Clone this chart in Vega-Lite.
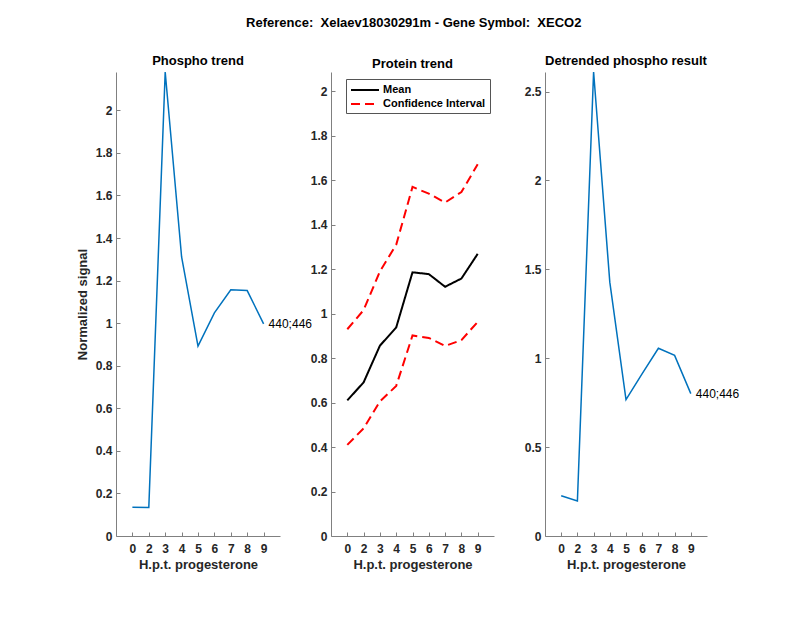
{
  "$schema": "https://vega.github.io/schema/vega-lite/v6.json",
  "background": "white",
  "padding": {"left": 76, "top": 17, "right": 5, "bottom": 5},
  "title": {"text": "Reference:\u00a0 Xelaev18030291m - Gene Symbol:\u00a0 XECO2", "anchor": "middle", "offset": 25, "dx": 6},
  "datasets": {
    "phospho": [
      {"t": 0, "value": 0.135},
      {"t": 2, "value": 0.134},
      {"t": 3, "value": 2.18},
      {"t": 4, "value": 1.311},
      {"t": 5, "value": 0.892},
      {"t": 6, "value": 1.048},
      {"t": 7, "value": 1.157},
      {"t": 8, "value": 1.153},
      {"t": 9, "value": 0.997, "label": "440;446"}
    ],
    "protein": [
      {"t": 0, "value": 0.61, "series": "Mean", "line": "mean"},
      {"t": 2, "value": 0.691, "series": "Mean", "line": "mean"},
      {"t": 3, "value": 0.856, "series": "Mean", "line": "mean"},
      {"t": 4, "value": 0.938, "series": "Mean", "line": "mean"},
      {"t": 5, "value": 1.186, "series": "Mean", "line": "mean"},
      {"t": 6, "value": 1.178, "series": "Mean", "line": "mean"},
      {"t": 7, "value": 1.121, "series": "Mean", "line": "mean"},
      {"t": 8, "value": 1.158, "series": "Mean", "line": "mean"},
      {"t": 9, "value": 1.269, "series": "Mean", "line": "mean"},
      {"t": 0, "value": 0.93, "series": "Confidence Interval", "line": "upper"},
      {"t": 2, "value": 1.016, "series": "Confidence Interval", "line": "upper"},
      {"t": 3, "value": 1.19, "series": "Confidence Interval", "line": "upper"},
      {"t": 4, "value": 1.31, "series": "Confidence Interval", "line": "upper"},
      {"t": 5, "value": 1.57, "series": "Confidence Interval", "line": "upper"},
      {"t": 6, "value": 1.54, "series": "Confidence Interval", "line": "upper"},
      {"t": 7, "value": 1.5, "series": "Confidence Interval", "line": "upper"},
      {"t": 8, "value": 1.547, "series": "Confidence Interval", "line": "upper"},
      {"t": 9, "value": 1.672, "series": "Confidence Interval", "line": "upper"},
      {"t": 0, "value": 0.41, "series": "Confidence Interval", "line": "lower"},
      {"t": 2, "value": 0.484, "series": "Confidence Interval", "line": "lower"},
      {"t": 3, "value": 0.605, "series": "Confidence Interval", "line": "lower"},
      {"t": 4, "value": 0.675, "series": "Confidence Interval", "line": "lower"},
      {"t": 5, "value": 0.902, "series": "Confidence Interval", "line": "lower"},
      {"t": 6, "value": 0.891, "series": "Confidence Interval", "line": "lower"},
      {"t": 7, "value": 0.855, "series": "Confidence Interval", "line": "lower"},
      {"t": 8, "value": 0.881, "series": "Confidence Interval", "line": "lower"},
      {"t": 9, "value": 0.963, "series": "Confidence Interval", "line": "lower"}
    ],
    "detrended": [
      {"t": 0, "value": 0.226},
      {"t": 2, "value": 0.197},
      {"t": 3, "value": 2.61},
      {"t": 4, "value": 1.428},
      {"t": 5, "value": 0.767},
      {"t": 6, "value": 0.913},
      {"t": 7, "value": 1.056},
      {"t": 8, "value": 1.016},
      {"t": 9, "value": 0.801, "label": "440;446"}
    ]
  },
  "hconcat": [
    {
      "width": 164,
      "height": 464,
      "title": {"text": "Phospho trend", "offset": 1},
      "data": {"name": "phospho"},
      "encoding": {
        "x": {"field": "t", "type": "ordinal", "scale": {"type": "point", "padding": 1}, "axis": {"title": "H.p.t. progesterone", "labelAngle": 0}},
        "y": {"field": "value", "type": "quantitative", "scale": {"domain": [0, 2.18], "nice": false, "zero": false}, "axis": {"title": "Normalized signal", "values": [0, 0.2, 0.4, 0.6, 0.8, 1, 1.2, 1.4, 1.6, 1.8, 2], "format": "~g"}}
      },
      "layer": [
        {"mark": {"type": "line", "color": "#0072BD", "strokeWidth": 1.5}},
        {"transform": [{"filter": "datum.label != null"}], "mark": {"type": "text", "align": "left", "baseline": "middle", "dx": 5, "fontSize": 12, "color": "black"}, "encoding": {"text": {"field": "label"}}}
      ]
    },
    {
      "width": 163,
      "height": 464,
      "title": {"text": "Protein trend", "offset": 1},
      "data": {"name": "protein"},
      "mark": {"type": "line", "strokeWidth": 2},
      "encoding": {
        "x": {"field": "t", "type": "ordinal", "scale": {"type": "point", "padding": 1}, "axis": {"title": "H.p.t. progesterone", "labelAngle": 0}},
        "y": {"field": "value", "type": "quantitative", "scale": {"domain": [0, 2.087], "nice": false, "zero": false}, "axis": {"title": null, "values": [0, 0.2, 0.4, 0.6, 0.8, 1, 1.2, 1.4, 1.6, 1.8, 2], "format": "~g"}},
        "detail": {"field": "line"},
        "color": {"field": "series", "type": "nominal", "scale": {"domain": ["Mean", "Confidence Interval"], "range": ["black", "#ff0000"]}, "legend": {"title": null}},
        "strokeDash": {"field": "series", "type": "nominal", "scale": {"domain": ["Mean", "Confidence Interval"], "range": [[1, 0], [9, 5]]}, "legend": {"title": null}}
      }
    },
    {
      "width": 162,
      "height": 464,
      "title": {"text": "Detrended phospho result", "offset": 1},
      "data": {"name": "detrended"},
      "encoding": {
        "x": {"field": "t", "type": "ordinal", "scale": {"type": "point", "padding": 1}, "axis": {"title": "H.p.t. progesterone", "labelAngle": 0}},
        "y": {"field": "value", "type": "quantitative", "scale": {"domain": [0, 2.61], "nice": false, "zero": false}, "axis": {"title": null, "values": [0, 0.5, 1, 1.5, 2, 2.5], "format": "~g"}}
      },
      "layer": [
        {"mark": {"type": "line", "color": "#0072BD", "strokeWidth": 1.5}},
        {"transform": [{"filter": "datum.label != null"}], "mark": {"type": "text", "align": "left", "baseline": "middle", "dx": 5, "fontSize": 12, "color": "black"}, "encoding": {"text": {"field": "label"}}}
      ]
    }
  ],
  "spacing": 51,
  "bounds": "flush",
  "resolve": {"scale": {"x": "independent", "y": "independent"}},
  "config": {
    "font": "Liberation Sans",
    "view": {"stroke": null},
    "axis": {
      "grid": false,
      "domainColor": "#808080",
      "tickColor": "#808080",
      "tickSize": -4,
      "labelPadding": 11,
      "labelFont": "Liberation Sans",
      "labelFontSize": 12,
      "labelFontWeight": "bold",
      "labelColor": "#262626",
      "titleFont": "Liberation Sans",
      "titleFontSize": 13,
      "titleFontWeight": "bold",
      "titleColor": "#262626"
    },
    "axisX": {"titlePadding": 4},
    "axisY": {"labelPadding": 8, "titlePadding": 6},
    "title": {"font": "Liberation Sans", "fontSize": 13, "fontWeight": "bold", "color": "black"},
    "legend": {
      "orient": "none",
      "legendX": 230,
      "legendY": 7,
      "symbolType": "M-2.333,0H2.333",
      "symbolSize": 144,
      "symbolOffset": 8,
      "symbolStrokeWidth": 2,
      "labelFont": "Liberation Sans",
      "labelFontSize": 11,
      "labelFontWeight": "bold",
      "labelColor": "black",
      "labelOffset": 11,
      "strokeColor": "#555555",
      "fillColor": "white",
      "padding": 4,
      "rowPadding": 2
    }
  }
}
